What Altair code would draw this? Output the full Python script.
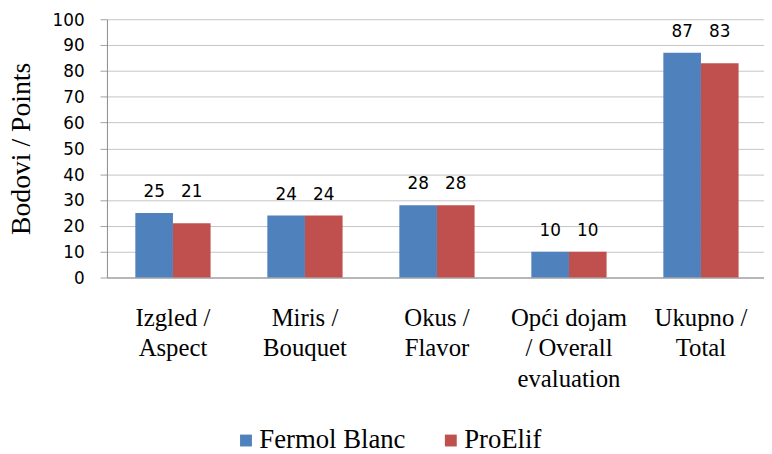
import altair as alt
import pandas as pd

categories = ["Izgled /|Aspect", "Miris /|Bouquet", "Okus /|Flavor",
              "Opći dojam|/ Overall|evaluation", "Ukupno /|Total"]
series = ["Fermol Blanc", "ProElif"]
fermol_blanc = [25, 24, 28, 10, 87]
proelif = [21, 24, 28, 10, 83]
colors = ["#4f81bd", "#c0504d"]
y_ticks = list(range(0, 101, 10))

rows = []
for c, a, b in zip(categories, fermol_blanc, proelif):
    rows.append({"category": c, "series": series[0], "value": a})
    rows.append({"category": c, "series": series[1], "value": b})
df = pd.DataFrame(rows)

x_scale = alt.Scale(range=[0, 667], paddingInner=0.43, paddingOuter=0.215)
y_scale = alt.Scale(domain=[0, 100], nice=False)

x_axis = alt.Axis(
    title=None, labelAngle=0, labelExpr="split(datum.value, '|')",
    labelFont="Liberation Serif", labelFontSize=25, labelColor="#000000",
    labelLineHeight=31, labelPadding=28, labelBaseline="top",
    ticks=False, domainColor="#8c8c8c", labelOverlap=False, labelLimit=300,
)
y_axis = alt.Axis(
    values=y_ticks, tickCount=11, title="Bodovi / Points",
    titleFont="Liberation Serif", titleFontSize=28, titleFontWeight="normal",
    titleColor="#000000", titleAngle=270, titleX=-78, titleY=130.5,
    titleBaseline="alphabetic", titleAlign="center",
    labelFont="DejaVu Sans", labelFontSize=17, labelColor="#000000",
    labelPadding=16, labelOffset=1, labelOverlap=False,
    tickSize=7, tickColor="#a0a0a0", domainColor="#8c8c8c",
    grid=True, gridColor="#c4c4c4",
)
xoff = alt.XOffset("series:N", sort=series)

color_enc = alt.Color(
    "series:N", sort=series,
    scale=alt.Scale(domain=series, range=colors),
    legend=alt.Legend(
        title=None, orient="none", direction="horizontal",
        legendX=127, legendY=412, symbolType="square", symbolSize=144,
        symbolStrokeWidth=0, labelFont="Liberation Serif", labelFontSize=27,
        labelColor="#000000", columnPadding=32, labelOffset=0,
    ),
)

bars = alt.Chart(df).mark_bar().encode(
    x=alt.X("category:N", sort=categories, scale=x_scale, axis=x_axis),
    xOffset=xoff,
    y=alt.Y("value:Q", scale=y_scale, axis=y_axis),
    color=color_enc,
)

labels = alt.Chart(df).transform_joinaggregate(
    mx="max(value)", groupby=["category"]
).mark_text(
    baseline="alphabetic", dy=-16, font="DejaVu Sans", fontSize=17, color="#000000"
).encode(
    x=alt.X("category:N", sort=categories, scale=x_scale, axis=x_axis),
    xOffset=xoff,
    y=alt.Y("mx:Q", scale=y_scale, axis=y_axis),
    text="value:Q",
)

chart = alt.layer(bars, labels).properties(
    width=664, height=261,
    autosize=alt.AutoSizeParams(type="none"),
    padding={"left": 100, "top": 9, "right": 0, "bottom": 176},
).configure_view(stroke=None).configure_legend(
    labelFont="Liberation Serif", labelFontSize=27
)

chart.save("out.html", embed_options={"renderer": "svg", "actions": False})
